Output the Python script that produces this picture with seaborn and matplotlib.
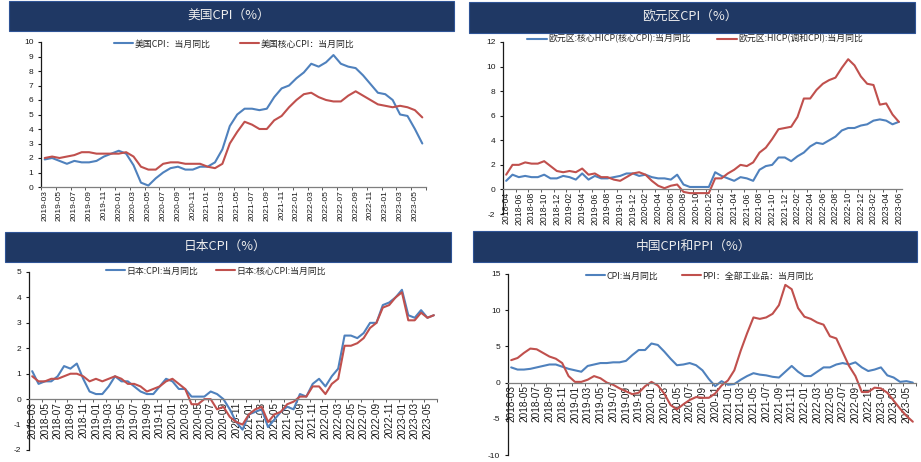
import numpy as np
import pandas as pd
import matplotlib
matplotlib.use("Agg")
import matplotlib.pyplot as plt
import seaborn as sns
from matplotlib.patches import Rectangle

# ---------------- data ----------------
us_months = list(pd.period_range("2019-03", "2023-06", freq="M").strftime("%Y-%m"))
us_cpi = [1.9, 2.0, 1.8, 1.6, 1.8, 1.7, 1.7, 1.8, 2.1, 2.3,
          2.5, 2.3, 1.5, 0.3, 0.1, 0.6, 1.0, 1.3, 1.4, 1.2, 1.2, 1.4,
          1.4, 1.7, 2.6, 4.2, 5.0, 5.4, 5.4, 5.3, 5.4, 6.2, 6.8, 7.0,
          7.5, 7.9, 8.5, 8.3, 8.6, 9.1, 8.5, 8.3, 8.2, 7.7, 7.1, 6.5,
          6.4, 6.0, 5.0, 4.9, 4.0, 3.0]
us_core = [2.0, 2.1, 2.0, 2.1, 2.2, 2.4, 2.4, 2.3, 2.3, 2.3,
           2.3, 2.4, 2.1, 1.4, 1.2, 1.2, 1.6, 1.7, 1.7, 1.6, 1.6, 1.6,
           1.4, 1.3, 1.6, 3.0, 3.8, 4.5, 4.3, 4.0, 4.0, 4.6, 4.9, 5.5,
           6.0, 6.4, 6.5, 6.2, 6.0, 5.9, 5.9, 6.3, 6.6, 6.3, 6.0, 5.7,
           5.6, 5.5, 5.6, 5.5, 5.3, 4.8]

eu_months = list(pd.period_range("2018-04", "2023-06", freq="M").strftime("%Y-%m"))
eu_core = [0.7, 1.2, 1.0, 1.1, 1.0, 1.0, 1.2, 0.9, 0.9,
           1.1, 1.0, 0.8, 1.3, 0.8, 1.1, 0.9, 0.9, 1.0, 1.1, 1.3, 1.3,
           1.1, 1.2, 1.0, 0.9, 0.9, 0.8, 1.2, 0.4, 0.2, 0.2, 0.2, 0.2,
           1.4, 1.1, 0.9, 0.7, 1.0, 0.9, 0.7, 1.6, 1.9, 2.0, 2.6, 2.6,
           2.3, 2.7, 3.0, 3.5, 3.8, 3.7, 4.0, 4.3, 4.8, 5.0, 5.0, 5.2,
           5.3, 5.6, 5.7, 5.6, 5.3, 5.5]
eu_hicp = [1.2, 2.0, 2.0, 2.2, 2.1, 2.1, 2.3, 1.9, 1.5,
           1.4, 1.5, 1.4, 1.7, 1.2, 1.3, 1.0, 1.0, 0.8, 0.7, 1.0, 1.3,
           1.4, 1.2, 0.7, 0.3, 0.1, 0.3, 0.4, -0.2, -0.3, -0.3, -0.3, -0.3,
           0.9, 0.9, 1.3, 1.6, 2.0, 1.9, 2.2, 3.0, 3.4, 4.1, 4.9, 5.0,
           5.1, 5.9, 7.4, 7.4, 8.1, 8.6, 8.9, 9.1, 9.9, 10.6, 10.1, 9.2,
           8.6, 8.5, 6.9, 7.0, 6.1, 5.5]

jp_months = list(pd.period_range("2018-03", "2023-06", freq="M").strftime("%Y-%m"))
jp_cpi = [1.1, 0.6, 0.7, 0.7, 0.9, 1.3, 1.2, 1.4, 0.8, 0.3,
          0.2, 0.2, 0.5, 0.9, 0.7, 0.7, 0.5, 0.3, 0.2, 0.2, 0.5, 0.8,
          0.7, 0.4, 0.4, 0.1, 0.1, 0.1, 0.3, 0.2, 0.0, -0.4, -0.9, -1.2,
          -0.6, -0.5, -0.4, -1.1, -0.8, -0.5, -0.3, -0.4, 0.2, 0.1, 0.6, 0.8,
          0.5, 0.9, 1.2, 2.5, 2.5, 2.4, 2.6, 3.0, 3.0, 3.7, 3.8, 4.0,
          4.3, 3.3, 3.2, 3.5, 3.2, 3.3]
jp_core = [0.9, 0.7, 0.7, 0.8, 0.8, 0.9, 1.0, 1.0, 0.9, 0.7,
           0.8, 0.7, 0.8, 0.9, 0.8, 0.6, 0.6, 0.5, 0.3, 0.4, 0.5, 0.7,
           0.8, 0.6, 0.4, -0.2, -0.2, 0.0, 0.0, -0.4, -0.3, -0.7, -0.9, -1.0,
           -0.6, -0.4, -0.3, -0.9, -0.6, -0.5, -0.2, -0.1, 0.1, 0.1, 0.5, 0.5,
           0.2, 0.6, 0.8, 2.1, 2.1, 2.2, 2.4, 2.8, 3.0, 3.6, 3.7, 4.0,
           4.2, 3.1, 3.1, 3.4, 3.2, 3.3]

cn_months = list(pd.period_range("2018-03", "2023-06", freq="M").strftime("%Y-%m"))
cn_cpi = [2.1, 1.8, 1.8, 1.9, 2.1, 2.3, 2.5, 2.5, 2.2, 1.9,
          1.7, 1.5, 2.3, 2.5, 2.7, 2.7, 2.8, 2.8, 3.0, 3.8, 4.5, 4.5,
          5.4, 5.2, 4.3, 3.3, 2.4, 2.5, 2.7, 2.4, 1.7, 0.5, -0.5, 0.2,
          -0.3, -0.2, 0.4, 0.9, 1.3, 1.1, 1.0, 0.8, 0.7, 1.5, 2.3, 1.5,
          0.9, 0.9, 1.5, 2.1, 2.1, 2.5, 2.7, 2.5, 2.8, 2.1, 1.6, 1.8,
          2.1, 1.0, 0.7, 0.1, 0.2, 0.0]
cn_ppi = [3.1, 3.4, 4.1, 4.7, 4.6, 4.1, 3.6, 3.3, 2.7, 0.9,
          0.1, 0.1, 0.4, 0.9, 0.6, 0.0, -0.3, -0.8, -1.2, -1.6, -1.4, -0.5,
          0.1, -0.4, -1.5, -3.1, -3.7, -3.0, -2.4, -2.0, -2.1, -2.1, -1.5, -0.4,
          0.3, 1.7, 4.4, 6.8, 9.0, 8.8, 9.0, 9.5, 10.7, 13.5, 12.9, 10.3,
          9.1, 8.8, 8.3, 8.0, 6.4, 6.1, 4.2, 2.3, 0.9, -1.3, -1.3, -0.7,
          -0.8, -1.4, -2.5, -3.6, -4.6, -5.4]

titles = ["美国CPI（%）", "欧元区CPI（%）", "日本CPI（%）", "中国CPI和PPI（%）"]
us_labels = ["美国CPI：当月同比", "美国核心CPI：当月同比"]
eu_labels = ["欧元区:核心HICP(核心CPI):当月同比", "欧元区:HICP(调和CPI):当月同比"]
jp_labels = ["日本:CPI:当月同比", "日本:核心CPI:当月同比"]
cn_labels = ["CPI:当月同比", "PPI：全部工业品：当月同比"]

# ---------------- style ----------------
sns.set_theme(style="ticks")
plt.rcParams["font.family"] = ["Liberation Sans", "Noto Sans CJK SC", "DejaVu Sans"]
plt.rcParams["axes.unicode_minus"] = False

W, H = 921, 462
BLUE = "#4f81bd"
RED = "#c0504d"
NAVY = "#1f3864"

fig = plt.figure(figsize=(W / 100, H / 100), dpi=100)


def fx(px):
    return px / W


def fy(py):
    return 1 - py / H


def title_bar(x0, x1, y0, y1, text, tx, ty):
    fig.add_artist(Rectangle((fx(x0), fy(y1)), fx(x1 - x0), (y1 - y0) / H,
                             transform=fig.transFigure, facecolor=NAVY,
                             edgecolor="#2f5496", linewidth=0.8))
    fig.text(fx(tx), fy(ty), text, ha="center", va="center", color="#eeeeee",
             fontsize=9.2, family=["Noto Sans CJK SC"])


def panel(box, months, s1, s2, labels, ylim, ystep, xfs, yfs, leg_xy, colsp):
    x0, x1, y0, y1 = box
    ax = fig.add_axes([fx(x0), fy(y1), fx(x1 - x0), (y1 - y0) / H])
    n = len(months)
    idx = np.arange(n)
    df = pd.DataFrame({"i": np.concatenate([idx, idx]),
                       "v": np.concatenate([s1, s2]),
                       "s": [labels[0]] * n + [labels[1]] * n})
    sns.lineplot(data=df, x="i", y="v", hue="s", palette=[BLUE, RED],
                 linewidth=1.5, ax=ax, legend=True)
    ax.set_xlim(-0.5, n - 0.5)
    ax.set_ylim(*ylim)
    ax.set_yticks(np.arange(ylim[0], ylim[1] + 0.001, ystep))
    ax.set_xticks(idx[::2], labels=months[::2])
    ax.set_xticks(np.arange(-0.5, n, 2), minor=True)
    ax.tick_params(axis="x", which="major", length=0, pad=2, labelrotation=90,
                   labelsize=xfs, labelcolor="#1a1a1a")
    ax.tick_params(axis="x", which="minor", length=2.5, width=0.7, color="#595959")
    ax.tick_params(axis="y", length=2.5, width=0.8, pad=3, labelsize=yfs,
                   color="#1a1a1a", labelcolor="#1a1a1a")
    ax.set_xlabel("")
    ax.set_ylabel("")
    ax.spines["top"].set_visible(False)
    ax.spines["right"].set_visible(False)
    ax.spines["left"].set_color("#1a1a1a")
    ax.spines["left"].set_linewidth(0.9)
    ax.spines["bottom"].set_color("#7f7f7f")
    ax.spines["bottom"].set_linewidth(0.9)
    ax.spines["bottom"].set_position(("data", 0))
    ax.set_facecolor("none")
    handles, labs = ax.get_legend_handles_labels()
    ax.legend(handles, labs, loc="center", ncol=2, frameon=False,
              bbox_to_anchor=(fx(leg_xy[0]), fy(leg_xy[1])),
              bbox_transform=fig.transFigure,
              prop={"family": ["Noto Sans CJK SC"], "size": 6.4},
              handlelength=2.2, handletextpad=0.15, columnspacing=colsp,
              borderaxespad=0, borderpad=0)
    return ax


# titles
title_bar(9, 454, 1, 31, titles[0], 229, 16)
title_bar(469, 915, 2, 33, titles[1], 690, 17)
title_bar(5, 451, 232, 262, titles[2], 225, 246)
title_bar(473, 917, 231, 262, titles[3], 693, 246)

panel((41, 426, 42, 187), us_months, us_cpi, us_core, us_labels,
      (0, 10), 1, 6.0, 6.0, (234, 44), 3.3)
panel((503, 902, 42, 214), eu_months, eu_core, eu_hicp, eu_labels,
      (-2, 12), 2, 6.3, 6.0, (695, 39), 3.0)
panel((29, 437, 272, 450), jp_months, jp_cpi, jp_core, jp_labels,
      (-2, 5), 1, 7.2, 6.0, (216, 271), 1.9)
panel((508, 916, 274, 455), cn_months, cn_cpi, cn_ppi, cn_labels,
      (-10, 15), 5, 7.2, 6.0, (700, 276), 2.6)

fig.savefig("out.png", dpi=100)
